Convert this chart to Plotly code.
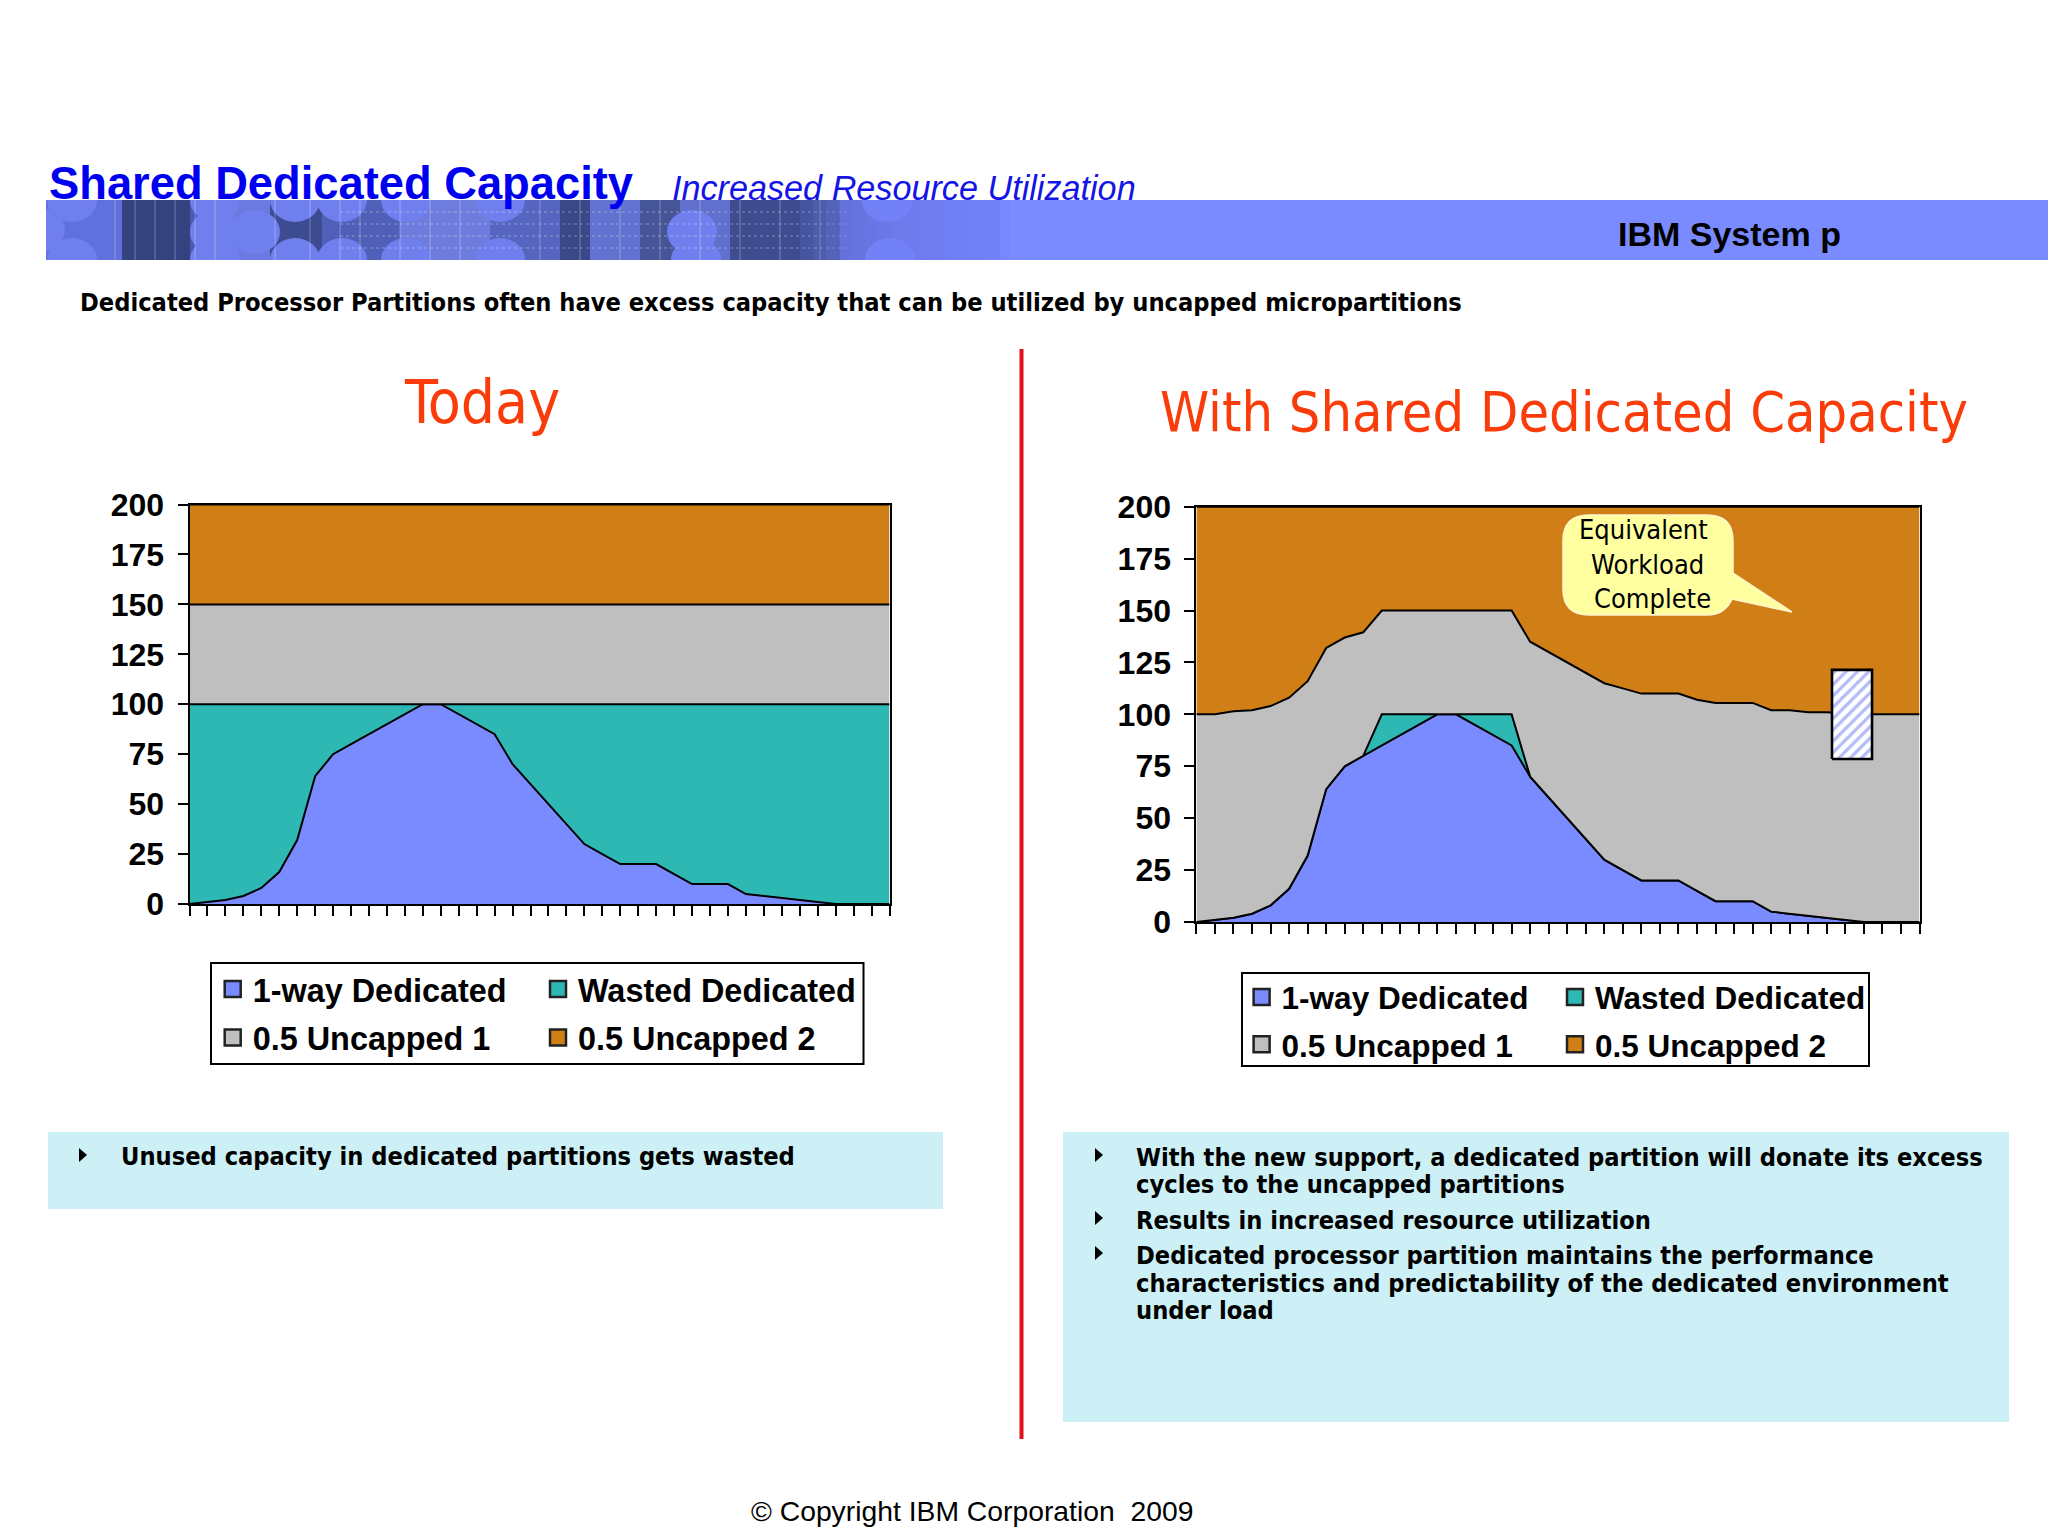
import plotly.graph_objects as go

W = 2048
H = 1536

# data
series_names = ["1-way Dedicated", "Wasted Dedicated", "0.5 Uncapped 1", "0.5 Uncapped 2"]
series_colors = ["#7a8aff", "#2eb8b4", "#bfbfc0", "#cf7f15"]
x_positions = list(range(40))
y_ticks = [0, 25, 50, 75, 100, 125, 150, 175, 200]
y_labels = ["0", "25", "50", "75", "100", "125", "150", "175", "200"]

today_blue = [0, 1, 2, 4, 8, 16, 32, 64, 75, 80, 85, 90, 95, 100, 100, 95, 90, 85, 70, 60,
              50, 40, 30, 25, 20, 20, 20, 15, 10, 10, 10, 5, 4, 3, 2, 1, 0, 0, 0, 0]
today_teal = [100, 99, 98, 96, 92, 84, 68, 36, 25, 20, 15, 10, 5, 0, 0, 5, 10, 15, 30, 40,
              50, 60, 70, 75, 80, 80, 80, 85, 90, 90, 90, 95, 96, 97, 98, 99, 100, 100, 100, 100]
today_gray = [50] * 40
today_orange = [50] * 40

shared_blue = [0, 1, 2, 4, 8, 16, 32, 64, 75, 80, 85, 90, 95, 100, 100, 95, 90, 85, 70, 60,
               50, 40, 30, 25, 20, 20, 20, 15, 10, 10, 10, 5, 4, 3, 2, 1, 0, 0, 0, 0]
shared_teal = [0, 0, 0, 0, 0, 0, 0, 0, 0, 0, 15, 10, 5, 0, 0, 5, 10, 15, 0, 0,
               0, 0, 0, 0, 0, 0, 0, 0, 0, 0, 0, 0, 0, 0, 0, 0, 0, 0, 0, 0]
shared_gray = [100, 99, 99.5, 98, 96, 92, 84, 68, 62, 59.5, 50, 50, 50, 50, 50, 50, 50, 50, 65, 70,
               75, 80, 85, 87.5, 90, 90, 90, 92, 95.5, 95.5, 95.5, 97, 98, 98, 99, 99.5, 100, 100, 100, 100]
shared_orange = [100, 100, 98.5, 98, 96, 92, 84, 68, 63, 60.5, 50, 50, 50, 50, 50, 50, 50, 50, 65, 70,
                 75, 80, 85, 87.5, 90, 90, 90, 93, 94.5, 94.5, 94.5, 98, 98, 99, 99, 99.5, 100, 100, 100, 100]

hatch_x = [34.28, 36.44, 36.44, 34.28, 34.28]
hatch_y = [78.5, 78.5, 121.4, 121.4, 78.5]

panel_font = "DejaVu Sans Condensed, Noto Sans, sans-serif"
arial = "Liberation Sans, Arial, sans-serif"


def fx(px):
    return px / W


def fy(py):
    return 1 - py / H


def rect(x0, y0, x1, y1, fill, line=None, width=0, opacity=1, layer="below"):
    return dict(type="rect", xref="paper", yref="paper", x0=fx(x0), x1=fx(x1), y0=fy(y0), y1=fy(y1),
                fillcolor=fill, line=dict(color=line or fill, width=width), opacity=opacity, layer=layer)


def label(text, x, y, size, color="#000000", family=panel_font, anchor="left"):
    return dict(text=text, x=fx(x), y=fy(y), xref="paper", yref="paper", xanchor=anchor, yanchor="middle",
                showarrow=False, font=dict(family=family, size=size, color=color))


def path_of(points):
    return "M" + " L".join(f"{fx(a):.5f},{fy(b):.5f}" for a, b in points) + " Z"


fig = go.Figure()

# stacked areas, today chart then shared chart
chart_sets = [
    ("x", "y", [today_blue, today_teal, today_gray, today_orange]),
    ("x2", "y2", [shared_blue, shared_teal, shared_gray, shared_orange]),
]
for xa, ya, stack in chart_sets:
    for name, color, values in zip(series_names, series_colors, stack):
        fig.add_trace(go.Scatter(x=x_positions, y=values, name=name, xaxis=xa, yaxis=ya, mode="lines",
                                 stackgroup=xa, fillcolor=color, showlegend=False,
                                 line=dict(color="#000000", width=2)))

fig.add_trace(go.Scatter(x=hatch_x, y=hatch_y, xaxis="x2", yaxis="y2", mode="lines", fill="toself",
                         showlegend=False, line=dict(color="#000000", width=2.6),
                         fillpattern=dict(shape="/", fgcolor="#6a78f0", bgcolor="#ffffff", size=8, solidity=0.4)))

# legend swatches, two columns per chart
legend_sets = [
    ("legend", "x", "y", [0, 2]), ("legend2", "x", "y", [1, 3]),
    ("legend3", "x2", "y2", [0, 2]), ("legend4", "x2", "y2", [1, 3]),
]
for legend_id, xa, ya, idx in legend_sets:
    for i in idx:
        fig.add_trace(go.Scatter(x=[None], y=[None], xaxis=xa, yaxis=ya, mode="markers", name=series_names[i],
                                 legend=legend_id, legendgroup=legend_id + str(i),
                                 marker=dict(symbol="square", size=16, color=series_colors[i],
                                             line=dict(color="#222222", width=2.5))))

shapes = []

# banner
shapes.append(rect(46, 200, W, 260, "#7a8aff"))
banner_blocks = [(46, 122, "#6070dc"), (122, 190, "#34427f"), (190, 232, "#4a5ab4"), (232, 270, "#6a7ae0"),
                 (270, 322, "#3d4b90"), (322, 400, "#5060b8"), (400, 490, "#6e7ddd"), (490, 560, "#5565c0"),
                 (560, 590, "#3a4888"), (590, 640, "#6272d0"), (640, 680, "#465598"), (680, 730, "#6070cc"),
                 (730, 840, "#3f4d90"), (840, 1000, "#5564c0")]
for x0, x1, color in banner_blocks:
    shapes.append(rect(x0, 200, x1, 260, color))
for cx, cy in [(72, 200), (215, 200), (295, 200), (342, 200), (406, 200), (500, 200), (887, 200),
               (40, 230), (215, 232), (255, 232), (692, 232),
               (72, 260), (215, 260), (295, 260), (342, 260), (406, 260), (500, 260), (696, 260), (890, 260)]:
    shapes.append(dict(type="circle", xref="paper", yref="paper", x0=fx(cx - 25), x1=fx(cx + 25),
                       y0=fy(cy + 22), y1=fy(cy - 22), fillcolor="#6f7fee", line=dict(width=0), layer="below"))
for gx in [115, 135, 155, 175, 195, 215, 275, 310, 340, 360, 400, 430, 460, 540, 580, 620, 660, 700, 740, 780, 820]:
    shapes.append(dict(type="line", xref="paper", yref="paper", x0=fx(gx), x1=fx(gx), y0=fy(200), y1=fy(260),
                       line=dict(color="#ffffff", width=1), opacity=0.3, layer="below"))
for gy in [212, 224, 236, 248]:
    shapes.append(dict(type="line", xref="paper", yref="paper", x0=fx(340), x1=fx(850), y0=fy(gy), y1=fy(gy),
                       line=dict(color="#ffffff", width=1, dash="dot"), opacity=0.35, layer="below"))
# fade the texture into the plain blue
for step in range(16):
    shapes.append(rect(800 + step * 13, 200, 1010, 260, "#7a8aff", opacity=0.14))
shapes.append(rect(0, 160, W, 200, "#ffffff"))
shapes.append(rect(0, 260, W, 285, "#ffffff"))
shapes.append(rect(0, 160, 46, 285, "#ffffff"))

# red divider and the two text panels
shapes.append(rect(1019.5, 349, 1023.5, 1439, "#e0101c"))
shapes.append(rect(48, 1132, 943, 1209, "#ccf0f5"))
shapes.append(rect(1063, 1132, 2009, 1422, "#ccf0f5"))

# legend boxes
shapes.append(rect(211, 963, 863.5, 1064, "#ffffff", "#000000", 2))
shapes.append(rect(1242, 973, 1869, 1066, "#ffffff", "#000000", 2))

# bullets
for bx, by in [(82, 1155), (1098, 1155), (1098, 1218), (1098, 1253)]:
    shapes.append(dict(type="path", xref="paper", yref="paper", fillcolor="#000000", line=dict(width=0), layer="below",
                       path=path_of([(bx - 3, by - 7), (bx + 5, by), (bx - 3, by + 7)])))

# callout
r = 26
callout = (f"M{fx(1563 + r):.5f},{fy(515):.5f} L{fx(1733 - r):.5f},{fy(515):.5f} "
           f"Q{fx(1733):.5f},{fy(515):.5f} {fx(1733):.5f},{fy(515 + r):.5f} "
           f"L{fx(1733):.5f},{fy(573):.5f} L{fx(1792):.5f},{fy(612):.5f} L{fx(1732):.5f},{fy(599):.5f} "
           f"Q{fx(1725):.5f},{fy(615):.5f} {fx(1733 - r):.5f},{fy(615):.5f} "
           f"L{fx(1563 + r):.5f},{fy(615):.5f} Q{fx(1563):.5f},{fy(615):.5f} {fx(1563):.5f},{fy(615 - r):.5f} "
           f"L{fx(1563):.5f},{fy(515 + r):.5f} Q{fx(1563):.5f},{fy(515):.5f} {fx(1563 + r):.5f},{fy(515):.5f} Z")
shapes.append(dict(type="path", xref="paper", yref="paper", path=callout, fillcolor="#ffffa0",
                   line=dict(color="#fff6d0", width=1.5), layer="above"))

annotations = [
    label("<b>Shared Dedicated Capacity</b>", 47, 183, 45.3, "#0000f0", arial),
    label("<i>Increased Resource Utilization</i>", 670, 188, 34.2, "#1414e6", arial),
    label("<b>IBM System p</b>", 1616, 234, 34, "#000000", arial),
    label("<b>Dedicated Processor Partitions often have excess capacity that can be utilized by uncapped micropartitions</b>",
          77.5, 302, 25.2),
    label("Today", 482, 402, 60, "#fa3c0a", anchor="center"),
    label("With Shared Dedicated Capacity", 1157.5, 412, 55.4, "#fa3c0a"),
    label("Equivalent", 1643, 530, 27, anchor="center"),
    label("Workload", 1647, 564, 27, anchor="center"),
    label("Complete", 1652, 598, 27, anchor="center"),
    label("<b>Unused capacity in dedicated partitions gets wasted</b>", 119, 1156, 25.2),
    label("\u00a9 Copyright IBM Corporation\u00a0\u00a02009", 972, 1511, 28.3, anchor="center", family=arial),
]
panel_lines = [
    ("With the new support, a dedicated partition will donate its excess", 1157),
    ("cycles to the uncapped partitions", 1184),
    ("Results in increased resource utilization", 1220),
    ("Dedicated processor partition maintains the performance", 1255),
    ("characteristics and predictability of the dedicated environment", 1283),
    ("under load", 1310),
]
for text, y in panel_lines:
    annotations.append(label(f"<b>{text}</b>", 1134, y, 25.2))

axis_common = dict(showgrid=False, zeroline=False, showline=True, linecolor="#000000", linewidth=2, mirror=True,
                   ticks="outside", ticklen=10, tickwidth=1.6, tickcolor="#000000")
y_common = dict(range=[0, 200], tickmode="array", tickvals=y_ticks, ticktext=y_labels, ticklabelstandoff=7,
                tickfont=dict(family=arial, size=32, color="#000000", weight="bold"))
x_common = dict(range=[0, 39], tickmode="linear", tick0=0, dtick=1, showticklabels=False)


def legend_at(px, py, size):
    return dict(x=fx(px), y=fy(py), xref="paper", yref="paper", xanchor="left", yanchor="top",
                orientation="v", traceorder="grouped", tracegroupgap=3.4, bgcolor="rgba(0,0,0,0)",
                font=dict(family=arial, size=size, color="#000000", weight="bold"))


fig.update_layout(
    width=W,
    height=H,
    margin=dict(l=0, r=0, t=0, b=0, autoexpand=False),
    paper_bgcolor="#ffffff",
    plot_bgcolor="#ffffff",
    xaxis=dict(domain=[fx(189.5), fx(889.5)], anchor="y", **x_common, **axis_common),
    yaxis=dict(domain=[fy(904), fy(504.5)], anchor="x", **y_common, **axis_common),
    xaxis2=dict(domain=[fx(1196.4), fx(1919.5)], anchor="y2", **x_common, **axis_common),
    yaxis2=dict(domain=[fy(922), fy(506.7)], anchor="x2", **y_common, **axis_common),
    legend=legend_at(212.7, 961.5, 32.4),
    legend2=legend_at(538, 961.5, 32.4),
    legend3=legend_at(1241.6, 970, 31.5),
    legend4=legend_at(1555, 970, 31.5),
    shapes=shapes,
    annotations=annotations,
)

fig.write_html("out.html", config=dict(displayModeBar=False), post_script="document.body.style.margin='0';")
